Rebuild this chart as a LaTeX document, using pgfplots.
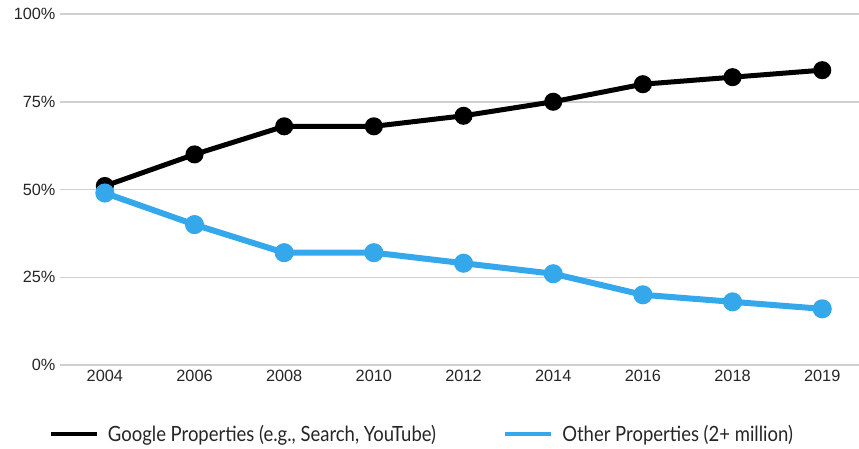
\documentclass[border=0pt]{standalone}
\usepackage{pgfplots}
\pgfplotsset{compat=1.18}
\usepackage{fontspec}
\setmainfont{Liberation Sans}
\newfontfamily\legfont[FakeStretch=0.88]{Lato}
\definecolor{gridgray}{RGB}{208,208,208}
\definecolor{skyblue}{RGB}{53,168,236}
\begin{document}
\begin{tikzpicture}[x=1pt,y=1pt]
\useasboundingbox (0,0) rectangle (859,448);
\begin{axis}[
  at={(60pt,83pt)}, anchor=south west,
  scale only axis, width=799pt, height=351pt,
  xmin=-0.5, xmax=8.41, ymin=0, ymax=100,
  axis line style={draw=none},
  major tick length=0pt,
  xtick={0,...,8},
  xticklabels={2004,2006,2008,2010,2012,2014,2016,2018,2019},
  ytick={0,25,50,75,100},
  yticklabels={0\%,25\%,50\%,75\%,100\%},
  ymajorgrids, grid style={gridgray, line width=1.5pt},
  tick label style={font=\fontsize{16.3}{19}\selectfont, text=black!85},
  yticklabel style={xshift=-1pt},
  xticklabel style={yshift=-2pt},
  clip=false,
  legend columns=2,
  legend style={at={(-0.0175,-0.196)}, anchor=west, draw=none, fill=none,
    font=\legfont\fontsize{21}{24}\selectfont, text=black!85,
    /tikz/every even column/.append style={column sep=65pt}},
  legend image code/.code={\draw[#1, line width=4.5pt] (0pt,0pt) -- (46pt,0pt);
    \path (52pt,0pt);},
]
\addplot[black, line width=5pt, mark=*, mark size=6.5pt, mark options={solid}]
  coordinates {(0,51) (1,60) (2,68) (3,68) (4,71) (5,75) (6,80) (7,82) (8,84)};
\addlegendentry{Google Properties (e.g., Search, YouTube)}
\addplot[skyblue, line width=6pt, mark=*, mark size=6.5pt, mark options={solid}]
  coordinates {(0,49) (1,40) (2,32) (3,32) (4,29) (5,26) (6,20) (7,18) (8,16)};
\addlegendentry{Other Properties (2+ million)}
\end{axis}
\end{tikzpicture}
\end{document}
